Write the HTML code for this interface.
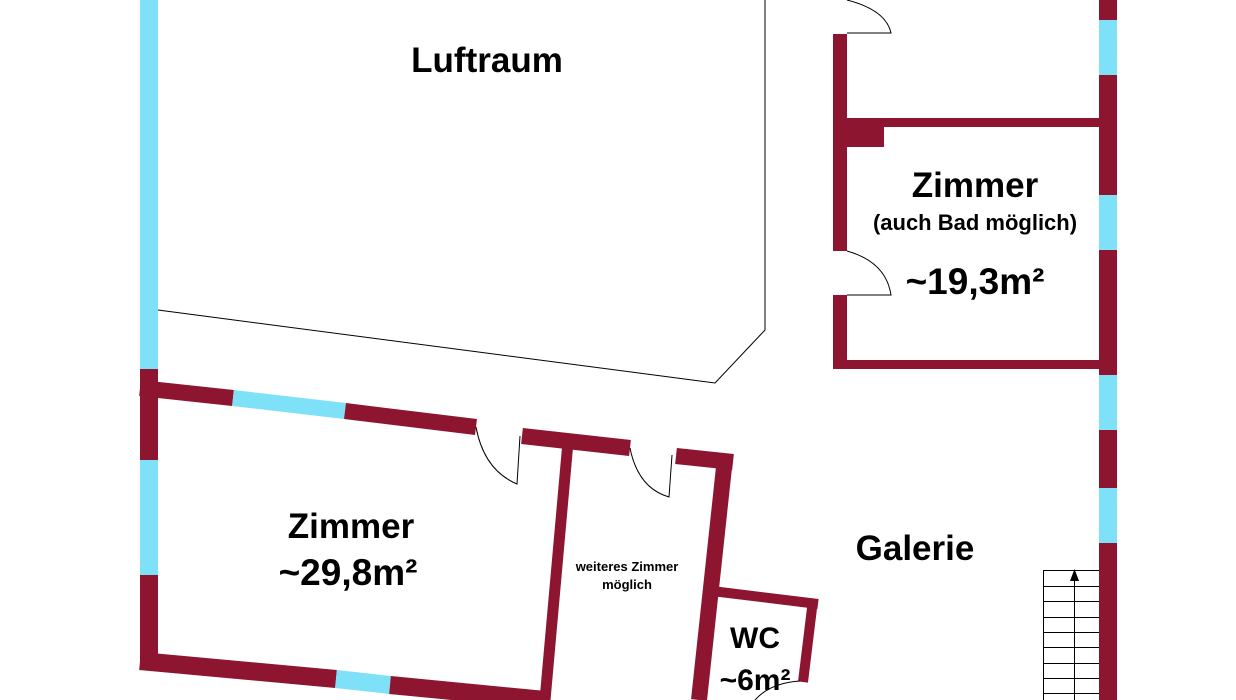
<!DOCTYPE html>
<html><head><meta charset="utf-8"><style>
html,body{margin:0;padding:0;background:#fff;}
svg{display:block;}
text{font-family:"Liberation Sans",sans-serif;font-weight:bold;fill:#000;text-anchor:middle;}
</style></head><body>
<svg width="1236" height="700" viewBox="0 0 1236 700" xmlns="http://www.w3.org/2000/svg">
<polyline points="158,310 715,383 765,330 765,0" fill="none" stroke="#000" stroke-width="1"/>
<rect x="140" y="0" width="18" height="369" fill="#7fe1f7"/>
<rect x="140" y="369" width="18" height="91" fill="#8e1530"/>
<rect x="140" y="460" width="18" height="115" fill="#7fe1f7"/>
<rect x="140" y="575" width="18" height="95" fill="#8e1530"/>
<g stroke-linecap="butt">
<line x1="140" y1="388" x2="233" y2="398" stroke="#8e1530" stroke-width="16"/>
<line x1="233" y1="398" x2="345" y2="411" stroke="#7fe1f7" stroke-width="16"/>
<line x1="345" y1="411" x2="476" y2="427" stroke="#8e1530" stroke-width="16"/>
<line x1="522" y1="436" x2="630" y2="448" stroke="#8e1530" stroke-width="16"/>
<line x1="676" y1="456" x2="733" y2="462" stroke="#8e1530" stroke-width="16"/>
<line x1="568" y1="442" x2="545" y2="700" stroke="#8e1530" stroke-width="11"/>
<line x1="725" y1="458" x2="699" y2="700" stroke="#8e1530" stroke-width="16"/>
<line x1="140" y1="661" x2="336" y2="679" stroke="#8e1530" stroke-width="18"/>
<line x1="336" y1="679" x2="390" y2="685" stroke="#7fe1f7" stroke-width="18"/>
<line x1="390" y1="685" x2="545" y2="700" stroke="#8e1530" stroke-width="18"/>
<line x1="712" y1="591" x2="818" y2="604" stroke="#8e1530" stroke-width="10"/>
<line x1="813" y1="600" x2="803" y2="682" stroke="#8e1530" stroke-width="10"/>
</g>
<path d="M476,427 Q484,470 517,484 L520,436" fill="none" stroke="#000" stroke-width="1"/>
<path d="M630,448 Q638,488 669,497 L672,455" fill="none" stroke="#000" stroke-width="1"/>
<path d="M800,681 Q770,683 755,700" fill="none" stroke="#000" stroke-width="1"/>
<rect x="833" y="34" width="14" height="217" fill="#8e1530"/>
<rect x="833" y="295" width="14" height="74" fill="#8e1530"/>
<rect x="833" y="118" width="51" height="29" fill="#8e1530"/>
<rect x="833" y="118" width="270" height="9" fill="#8e1530"/>
<rect x="833" y="360" width="270" height="9" fill="#8e1530"/>
<path d="M847,0 Q886,10 891,33 L847,33" fill="none" stroke="#000" stroke-width="1"/>
<path d="M847,251 Q886,262 891,295 L847,295" fill="none" stroke="#000" stroke-width="1"/>
<rect x="1099" y="0" width="18" height="20" fill="#8e1530"/>
<rect x="1099" y="20" width="18" height="55" fill="#7fe1f7"/>
<rect x="1099" y="75" width="18" height="120" fill="#8e1530"/>
<rect x="1099" y="195" width="18" height="55" fill="#7fe1f7"/>
<rect x="1099" y="250" width="18" height="125" fill="#8e1530"/>
<rect x="1099" y="375" width="18" height="55" fill="#7fe1f7"/>
<rect x="1099" y="430" width="18" height="58" fill="#8e1530"/>
<rect x="1099" y="488" width="18" height="55" fill="#7fe1f7"/>
<rect x="1099" y="543" width="18" height="157" fill="#8e1530"/>
<g stroke="#000" stroke-width="1" fill="none">
<line x1="1043.5" y1="570" x2="1043.5" y2="700"/>
<line x1="1043" y1="570.5" x2="1099" y2="570.5"/>
<line x1="1043" y1="586.5" x2="1099" y2="586.5"/>
<line x1="1043" y1="601.5" x2="1099" y2="601.5"/>
<line x1="1043" y1="617.5" x2="1099" y2="617.5"/>
<line x1="1043" y1="632.5" x2="1099" y2="632.5"/>
<line x1="1043" y1="647.5" x2="1099" y2="647.5"/>
<line x1="1043" y1="663.5" x2="1099" y2="663.5"/>
<line x1="1043" y1="678.5" x2="1099" y2="678.5"/>
<line x1="1043" y1="693.5" x2="1099" y2="693.5"/>
<line x1="1074.5" y1="575" x2="1074.5" y2="700"/>
</g>
<polygon points="1074.5,569 1070,581 1079,581" fill="#000"/>
<text x="487" y="72" font-size="35">Luftraum</text>
<text x="975" y="197" font-size="35">Zimmer</text>
<text x="975" y="230" font-size="22">(auch Bad möglich)</text>
<text x="975" y="294" font-size="37">~19,3m²</text>
<text x="915" y="560" font-size="35">Galerie</text>
<text x="351" y="538" font-size="35">Zimmer</text>
<text x="348" y="585" font-size="37">~29,8m²</text>
<text x="627" y="571" font-size="13" font-weight="normal">weiteres Zimmer</text>
<text x="627" y="589" font-size="13" font-weight="normal">möglich</text>
<text x="755" y="648" font-size="30">WC</text>
<text x="755" y="690" font-size="30">~6m²</text>
</svg>
</body></html>
